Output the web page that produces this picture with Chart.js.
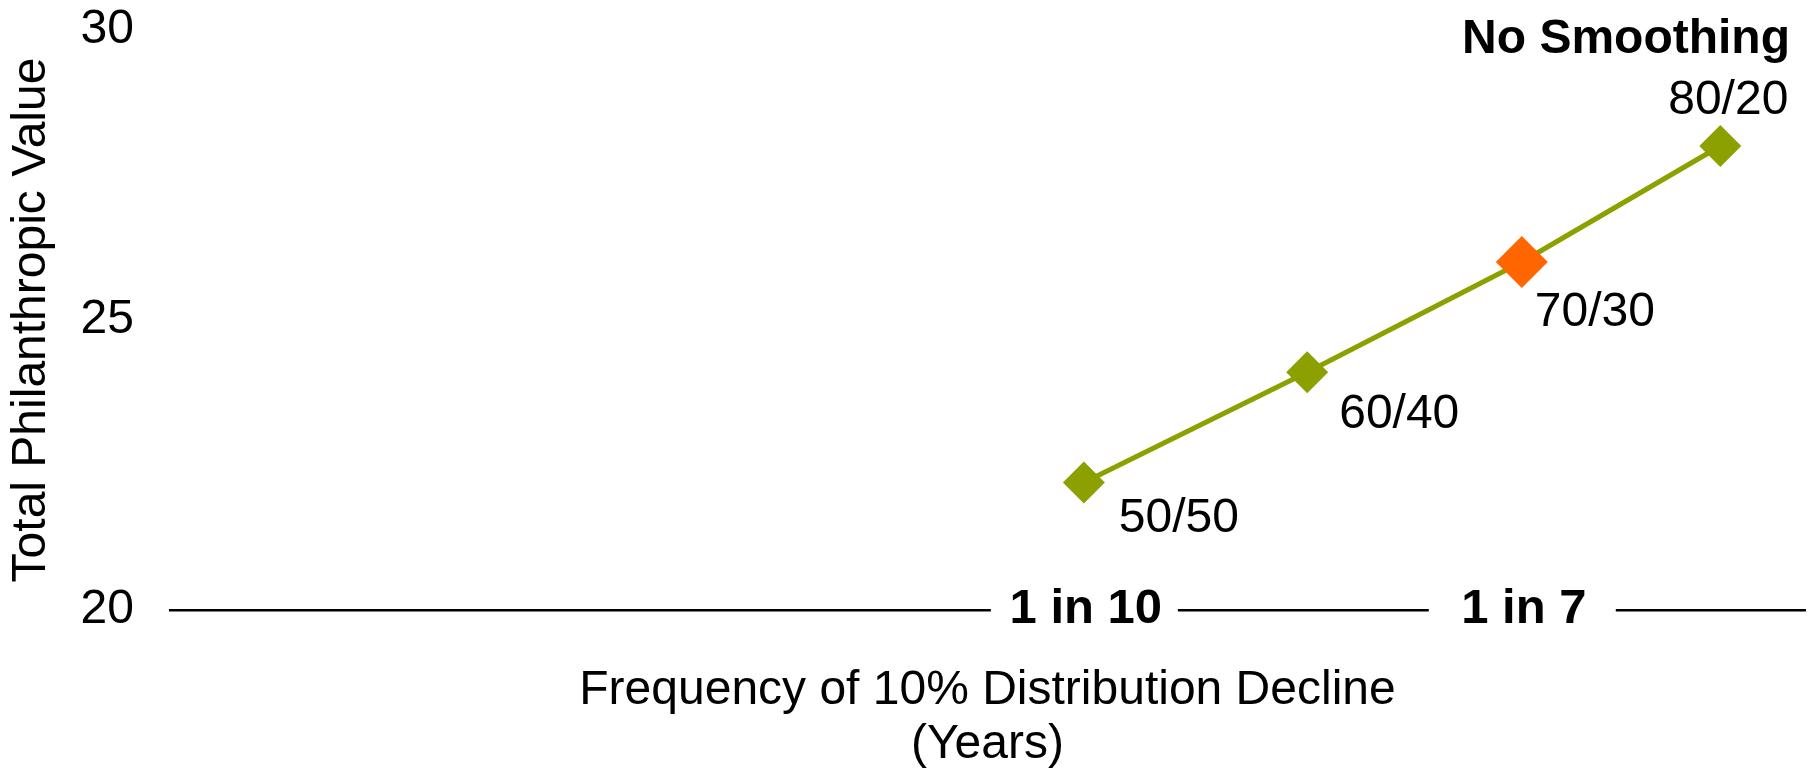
<!DOCTYPE html>
<html>
<head>
<meta charset="utf-8">
<title>Total Philanthropic Value</title>
<script src="https://cdn.jsdelivr.net/npm/chart.js@4/dist/chart.umd.min.js"></script>
<style>
    html, body { margin: 0; padding: 0; background: #fff; overflow: hidden; }
    canvas { display: block; }
</style>
</head>
<body>
<canvas id="grafico-filantropico" width="1811" height="772"></canvas>
<script>
// Mezclas de cartera y su valor filantrópico total
const mezclas = ['50/50', '60/40', '70/30', '80/20'];
const frecuenciaAnios = [10, 8.47, 7, 5.64];
const valorFilantropico = [22.2, 24.1, 26.0, 28.0];

// Ejes
const ticksX = [10, 7];
const etiquetasX = ['1 in 10', '1 in 7'];
const ticksY = [20, 25, 30];

const indiceDestacado = 2;
const VERDE = '#8ca100';
const NARANJA = '#ff6600';
const FUENTE = '"Liberation Sans", Arial, sans-serif';

// Posición de cada rótulo respecto a su punto
const posicionRotulos = [
    { dx: 35, dy: 50, align: 'left' },
    { dx: 32, dy: 56, align: 'left' },
    { dx: 13, dy: 64, align: 'left' },
    { dx: 68, dy: -32, align: 'right' }
];

const rotulosPlugin = {
    id: 'rotulos',
    afterDraw(chart) {
        const ctx = chart.ctx;
        const area = chart.chartArea;
        const escalaX = chart.scales.x;
        const meta = chart.getDatasetMeta(0);
        ctx.save();

        // rótulos de cada punto
        ctx.font = '48px ' + FUENTE;
        ctx.fillStyle = '#000';
        ctx.textBaseline = 'alphabetic';
        meta.data.forEach((punto, i) => {
            const p = posicionRotulos[i];
            ctx.textAlign = p.align;
            ctx.fillText(mezclas[i], punto.x + p.dx, punto.y + p.dy);
        });

        // etiquetas del eje X encima de la línea
        ctx.font = 'bold 49px ' + FUENTE;
        ctx.textAlign = 'center';
        ctx.textBaseline = 'middle';
        ticksX.forEach((valor, i) => {
            const px = escalaX.getPixelForValue(valor);
            ctx.fillStyle = '#fff';
            ctx.fillRect(px - 93, area.bottom - 8, 187, 16);
            ctx.fillStyle = '#000';
            ctx.fillText(etiquetasX[i], px + 2, area.bottom - 1);
        });

        ctx.font = 'bold 48px ' + FUENTE;
        ctx.textAlign = 'right';
        ctx.textBaseline = 'alphabetic';
        ctx.fillText('No Smoothing', area.right - 15, 53);
        ctx.restore();
    }
};

const puntos = frecuenciaAnios.map((x, i) => ({ x: x, y: valorFilantropico[i] }));
const coloresPuntos = mezclas.map((m, i) => i === indiceDestacado ? NARANJA : VERDE);
const radiosPuntos = mezclas.map((m, i) => i === indiceDestacado ? 26 : 21);

new Chart(document.getElementById('grafico-filantropico'), {
    type: 'line',
    data: {
        datasets: [{
            label: 'No Smoothing',
            data: puntos,
            borderColor: VERDE,
            borderWidth: 5,
            tension: 0,
            fill: false,
            clip: false,
            pointStyle: 'rectRot',
            pointRadius: radiosPuntos,
            pointHoverRadius: radiosPuntos,
            pointBackgroundColor: coloresPuntos,
            pointBorderWidth: 0
        }]
    },
    options: {
        responsive: false,
        animation: false,
        layout: { autoPadding: false, padding: { top: 30, right: 6, bottom: 0, left: 0 } },
        plugins: {
            legend: { display: false },
            tooltip: { enabled: false }
        },
        scales: {
            x: {
                type: 'linear',
                reverse: true,
                min: 5.06,
                max: 16.26,
                afterBuildTicks: (escala) => {
                    escala.ticks = ticksX.map(v => ({ value: v }));
                },
                afterFit: (escala) => { escala.height = 162; },
                ticks: { display: false },
                grid: { display: false, drawTicks: false },
                border: { display: true, color: '#000', width: 2.5 },
                title: {
                    display: true,
                    text: ['Frequency of 10% Distribution Decline', '(Years)'],
                    color: '#000',
                    font: { family: FUENTE, size: 48, lineHeight: 1.13 },
                    padding: { top: 0, bottom: 0 }
                }
            },
            y: {
                min: 20,
                max: 30,
                afterBuildTicks: (escala) => {
                    escala.ticks = ticksY.map(v => ({ value: v }));
                },
                afterFit: (escala) => { escala.width = 170; },
                ticks: {
                    color: '#000',
                    padding: 0,
                    font: { family: FUENTE, size: 48 }
                },
                // la separación de las etiquetas va en tickLength para no agrandar el margen superior
                grid: { display: false, drawTicks: true, tickLength: 36, tickColor: 'rgba(0,0,0,0)' },
                border: { display: false },
                title: {
                    display: true,
                    text: 'Total Philanthropic Value',
                    color: '#000',
                    font: { family: FUENTE, size: 48 },
                    padding: { top: 3, bottom: 0 }
                }
            }
        }
    },
    plugins: [rotulosPlugin]
});
</script>
</body>
</html>
